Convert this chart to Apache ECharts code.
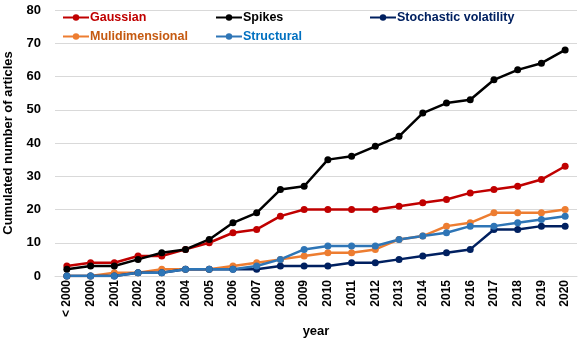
<!DOCTYPE html>
<html>
<head>
<meta charset="utf-8">
<script src="https://cdn.jsdelivr.net/npm/echarts@6/dist/echarts.min.js"></script>
<style>
  html, body { margin: 0; padding: 0; background: #fff; }
  #chart { width: 580px; height: 343px; }
</style>
</head>
<body>
<div id="chart"></div>
<script>
// categories
var years = ['< 2000', '2000', '2001', '2002', '2003', '2004', '2005', '2006', '2007', '2008', '2009',
  '2010', '2011', '2012', '2013', '2014', '2015', '2016', '2017', '2018', '2019', '2020']

// cumulated number of articles per model
var gaussian = [3, 4, 4, 6, 6, 8, 10, 13, 14, 18, 20, 20, 20, 20, 21, 22, 23, 25, 26, 27, 29, 33]
var spikes = [2, 3, 3, 5, 7, 8, 11, 16, 19, 26, 27, 35, 36, 39, 42, 49, 52, 53, 59, 62, 64, 68]
var multidim = [0, 0, 1, 1, 2, 2, 2, 3, 4, 5, 6, 7, 7, 8, 11, 12, 15, 16, 19, 19, 19, 20]
var structural = [0, 0, 0, 1, 1, 2, 2, 2, 3, 5, 8, 9, 9, 9, 11, 12, 13, 15, 15, 16, 17, 18]
var stochVol = [0, 0, 0, 1, 1, 2, 2, 2, 2, 3, 3, 3, 4, 4, 5, 6, 7, 8, 14, 14, 15, 15]

var FONT = '"Liberation Sans Narrow", "Liberation Sans", Arial, sans-serif'

var chart = echarts.init(document.getElementById('chart'))

function mkLegend (name, color, left, top) {
  return {
    data: [{ name: name, textStyle: { color: color } }],
    left: left,
    top: top,
    itemWidth: 26,
    itemHeight: 8,
    itemGap: 2,
    padding: 0,
    textStyle: { fontFamily: FONT, fontSize: 12.5, fontWeight: 'bold', padding: [0, 0, 0, -4] }
  }
}

function mkSeries (name, data, color) {
  return {
    name: name,
    type: 'line',
    data: data,
    symbol: 'circle',
    symbolSize: 7,
    lineStyle: { color: color, width: 2.5 },
    itemStyle: { color: color },
    emphasis: { disabled: true }
  }
}

var option = {
  animation: false,
  legend: [
    mkLegend('Gaussian', '#C00000', 62, 11),
    mkLegend('Spikes', '#000000', 215, 11),
    mkLegend('Stochastic volatility', '#002060', 369, 11),
    mkLegend('Mulidimensional', '#C55A11', 62, 30),
    mkLegend('Structural', '#0070C0', 215, 30)
  ],
  grid: {
    left: 55,
    right: 3,
    top: 10,
    bottom: 67,
    outerBoundsMode: 'none'
  },
  xAxis: {
    type: 'category',
    data: years,
    boundaryGap: true,
    name: 'year',
    nameLocation: 'middle',
    nameGap: 46,
    nameTextStyle: { fontFamily: FONT, fontSize: 13, fontWeight: 'bold', color: '#000' },
    axisLine: { lineStyle: { color: '#D9D9D9' } },
    axisTick: { show: false },
    axisLabel: {
      rotate: 90,
      interval: 0,
      fontFamily: FONT,
      fontSize: 12,
      fontWeight: 'bold',
      color: '#000',
      margin: 4
    }
  },
  yAxis: {
    type: 'value',
    min: 0,
    max: 80,
    interval: 10,
    name: 'Cumulated number of articles',
    nameLocation: 'middle',
    nameGap: 40,
    nameTextStyle: { fontFamily: FONT, fontSize: 13, fontWeight: 'bold', color: '#000' },
    axisLine: { show: false },
    axisTick: { show: false },
    axisLabel: {
      fontFamily: FONT,
      fontSize: 13,
      fontWeight: 'bold',
      color: '#000',
      margin: 14
    },
    splitLine: { lineStyle: { color: '#D9D9D9' } }
  },
  series: [
    mkSeries('Gaussian', gaussian, '#C00000'),
    mkSeries('Mulidimensional', multidim, '#ED7D31'),
    mkSeries('Stochastic volatility', stochVol, '#002060'),
    mkSeries('Spikes', spikes, '#000000'),
    mkSeries('Structural', structural, '#2E75B6')
  ]
}

chart.setOption(option)
</script>
</body>
</html>
